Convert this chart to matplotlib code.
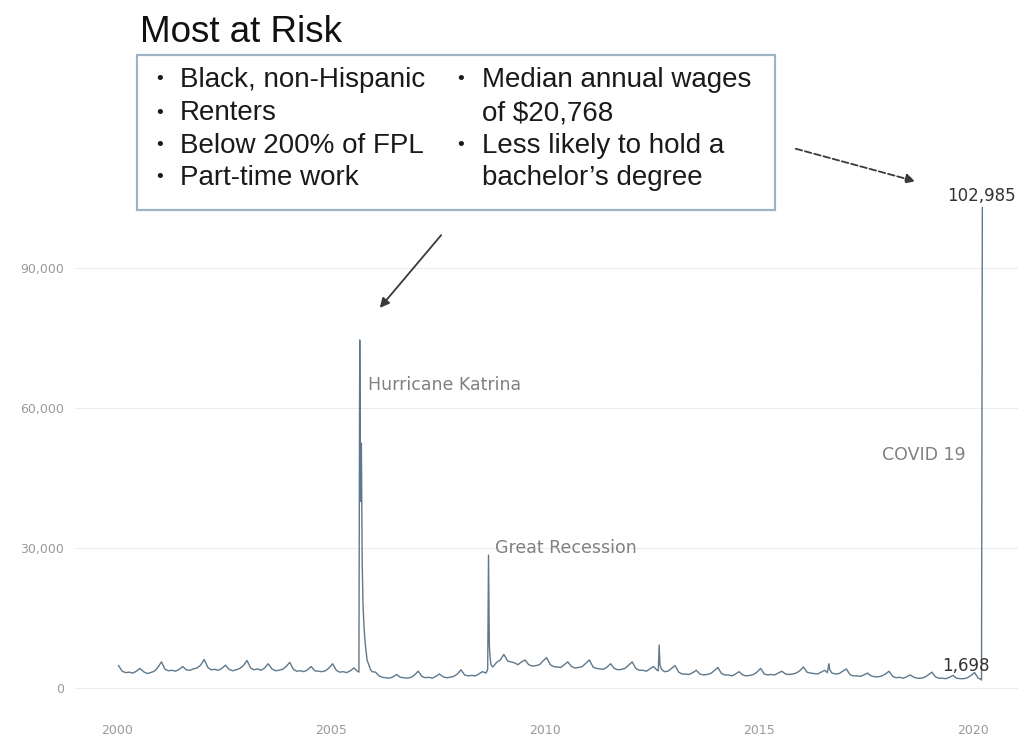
import numpy as np
import pandas as pd
import matplotlib.pyplot as plt
from matplotlib.patches import FancyBboxPatch

# monthly initial claims (thousands), NaN where weekly event data takes over
years = list(range(2000, 2021))
nan = np.nan
monthly_claims = [
    [4.8, 3.6, 3.3, 3.4, 3.2, 3.6, 4.2, 3.5, 3.1, 3.3, 3.6, 4.4],
    [5.6, 4.0, 3.7, 3.8, 3.6, 4.0, 4.6, 3.9, 3.8, 4.1, 4.3, 4.9],
    [6.1, 4.4, 3.9, 4.0, 3.8, 4.2, 4.9, 4.0, 3.7, 3.9, 4.2, 4.8],
    [5.9, 4.3, 3.9, 4.1, 3.8, 4.3, 5.2, 4.1, 3.7, 3.8, 4.0, 4.6],
    [5.5, 4.0, 3.6, 3.7, 3.5, 3.9, 4.6, 3.7, 3.6, 3.5, 3.7, 4.3],
    [5.2, 3.8, 3.4, 3.5, 3.3, 3.7, 4.3, 3.6, nan, nan, nan, nan],
    [3.4, 2.6, 2.3, 2.2, 2.1, 2.4, 2.9, 2.3, 2.2, 2.1, 2.3, 2.8],
    [3.6, 2.5, 2.2, 2.3, 2.1, 2.5, 3.0, 2.4, 2.2, 2.3, 2.5, 3.0],
    [3.9, 2.8, 2.6, 2.7, 2.6, 3.0, 3.5, 3.2, nan, nan, 5.5, 6.0],
    [7.2, 5.8, 5.6, 5.4, 5.0, 5.6, 6.0, 5.0, 4.7, 4.8, 5.0, 5.8],
    [6.5, 5.0, 4.6, 4.5, 4.4, 5.0, 5.6, 4.6, 4.3, 4.4, 4.6, 5.3],
    [6.0, 4.5, 4.2, 4.1, 4.0, 4.5, 5.2, 4.2, 3.9, 4.0, 4.2, 4.9],
    [5.6, 4.2, 3.8, 3.8, 3.6, 4.1, 4.6, 3.8, nan, 3.5, 3.6, 4.2],
    [4.8, 3.4, 3.0, 3.0, 2.9, 3.3, 3.8, 3.0, 2.8, 2.9, 3.1, 3.7],
    [4.4, 3.1, 2.8, 2.8, 2.6, 3.0, 3.5, 2.8, 2.6, 2.7, 2.9, 3.4],
    [4.2, 3.0, 2.8, 2.9, 2.8, 3.2, 3.6, 3.0, 2.9, 3.0, 3.2, 3.7],
    [4.5, 3.4, 3.2, 3.1, 3.0, 3.4, 3.8, nan, 3.2, 3.0, 3.1, 3.6],
    [4.1, 2.9, 2.6, 2.6, 2.5, 2.8, 3.2, 2.6, 2.4, 2.4, 2.6, 3.0],
    [3.6, 2.5, 2.2, 2.3, 2.1, 2.4, 2.8, 2.3, 2.1, 2.1, 2.3, 2.8],
    [3.4, 2.4, 2.1, 2.1, 2.0, 2.3, 2.7, 2.1, 2.0, 2.0, 2.2, 2.7],
    [3.3, 2.1, nan, nan, nan, nan, nan, nan, nan, nan, nan, nan],
]

# weekly values around the big events (thousands)
event_weeks = [
    "2005-08-27", "2005-09-03", "2005-09-10", "2005-09-17", "2005-09-24",
    "2005-10-01", "2005-10-08", "2005-10-15", "2005-10-22", "2005-10-29",
    "2005-11-05", "2005-11-19", "2005-12-03", "2005-12-17",
    "2008-08-30", "2008-09-06", "2008-09-13", "2008-09-20", "2008-09-27", "2008-10-11",
    "2012-08-25", "2012-09-01", "2012-09-08", "2012-09-22",
    "2016-08-06", "2016-08-20", "2016-08-27",
    "2020-03-07", "2020-03-14", "2020-03-21",
]
event_claims = [
    3.4, 74.6, 40.0, 52.5, 27.0,
    18.0, 14.0, 11.0, 9.0, 7.5,
    6.0, 5.0, 4.0, 3.5,
    4.0, 28.5, 9.0, 6.5, 5.0, 4.5,
    3.7, 9.2, 5.0, 4.0,
    3.3, 5.2, 3.9,
    1.9, 1.698, 102.985,
]

rows = []
for yr, vals in zip(years, monthly_claims):
    for m, v in enumerate(vals):
        if not np.isnan(v):
            rows.append((pd.Timestamp(yr, m + 1, 15), v))
for d, v in zip(event_weeks, event_claims):
    rows.append((pd.Timestamp(d), v))
df = pd.DataFrame(rows, columns=["date", "claims"]).sort_values("date")
df["claims"] = df["claims"] * 1000

fig = plt.figure(figsize=(10.2, 7.37), dpi=100)
ax = fig.add_axes([0.0735, 0.0502, 0.9245, 0.700])

ax.plot(df["date"], df["claims"], color="#5f788b", lw=1.0)

ax.set_xlim(pd.Timestamp("1999-01-08"), pd.Timestamp("2021-01-19"))
ax.set_ylim(-2571, 108000)
xt = [pd.Timestamp(y, 1, 1) for y in [2000, 2005, 2010, 2015, 2020]]
ax.set_xticks(xt)
ax.set_xticklabels(["2000", "2005", "2010", "2015", "2020"])
ax.set_yticks([0, 30000, 60000, 90000])
ax.set_yticklabels(["0", "30,000", "60,000", "90,000"])
ax.tick_params(length=0, labelsize=9, labelcolor="#9a9a9a", pad=8)
ax.tick_params(axis="x", pad=17)
for s in ax.spines.values():
    s.set_visible(False)
ax.grid(axis="y", color="#ececec", lw=0.8)
ax.set_axisbelow(True)

txt = dict(color="#808080", fontsize=12.5, family="DejaVu Sans", va="center")
ax.text(pd.Timestamp("2005-11-10"), 64900, "Hurricane Katrina", **txt)
ax.text(pd.Timestamp("2008-10-28"), 30000, "Great Recession", **txt)
ax.text(pd.Timestamp("2017-11-20"), 49900, "COVID 19", **txt)

num = dict(color="#333333", fontsize=12, family="DejaVu Sans", ha="center", va="center")
ax.text(pd.Timestamp("2020-03-10"), 105400, "102,985", **num)
ax.text(pd.Timestamp("2019-11-01"), 4800, "1,698", **num)

# call-out box
fig.text(140 / 1020, 1 - 32 / 737, "Most at Risk", fontsize=26.5,
         family="Liberation Sans", va="center", ha="left", color="#111111")
box = FancyBboxPatch((137 / 1020, 1 - 210 / 737), (775 - 137) / 1020, 155 / 737,
                     boxstyle="square,pad=0", transform=fig.transFigure,
                     facecolor="white", edgecolor="#9fb3c2", lw=1.6)
fig.patches.append(box)

left_items = ["Black, non-Hispanic", "Renters", "Below 200% of FPL", "Part-time work"]
right_lines = [("•", "Median annual wages"), ("", "of $20,768"),
               ("•", "Less likely to hold a"), ("", "bachelor\u2019s degree")]
line_y = [80, 113, 146, 178]
bt = dict(fontsize=20, family="Liberation Sans", va="center", color="#1a1a1a")
bullet = dict(fontsize=14, family="Liberation Sans", va="center", color="#1a1a1a")
for item, py in zip(left_items, line_y):
    fig.text(156 / 1020, 1 - py / 737, "•", **bullet)
    fig.text(180 / 1020, 1 - py / 737, item, **bt)
for (b, t), py in zip(right_lines, line_y):
    if b:
        fig.text(457 / 1020, 1 - py / 737, b, **bullet)
    fig.text(482 / 1020, 1 - py / 737, t, **bt)

# arrows
ax.annotate("", xy=(378 / 1020, 1 - 310 / 737), xytext=(443 / 1020, 1 - 233 / 737),
            xycoords="figure fraction", textcoords="figure fraction",
            arrowprops=dict(arrowstyle="-|>", color="#3a3a3a", lw=1.3, mutation_scale=14))
ax.annotate("", xy=(918 / 1020, 1 - 182 / 737), xytext=(793 / 1020, 1 - 148 / 737),
            xycoords="figure fraction", textcoords="figure fraction",
            arrowprops=dict(arrowstyle="-|>", color="#3a3a3a", lw=1.3, ls="--",
                            mutation_scale=14))

fig.savefig("out.png", dpi=100)
